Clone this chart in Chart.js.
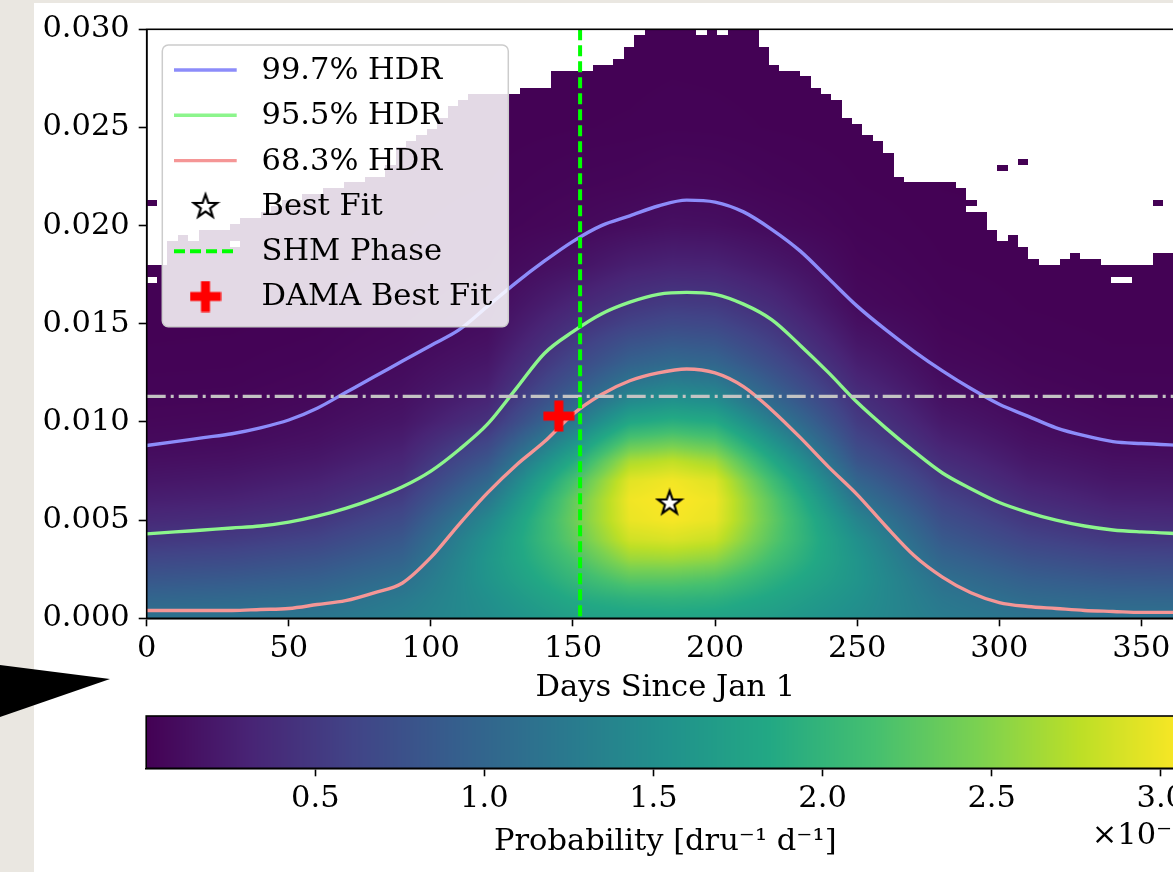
<!DOCTYPE html>
<html>
<head>
<meta charset="utf-8">
<script src="https://cdn.jsdelivr.net/npm/chart.js@4.4.1/dist/chart.umd.min.js"></script>
<style>
html, body { margin: 0; padding: 0; overflow: hidden; width: 1173px; height: 872px; background: #eae7e1; }
#sheet { position: absolute; left: 34px; top: 3px; width: 1200px; height: 900px; background: #fff; }
#main { position: absolute; left: 0; top: 0; }
#cbar { position: absolute; left: 0; top: 700px; }
#arrow { position: absolute; left: 0; top: 0; }
</style>
</head>
<body>
<div id="sheet"></div>
<svg id="arrow" width="120" height="872"><polygon points="0,665 110,679 0,717" fill="#000"/></svg>
<canvas id="main" width="1200" height="710"></canvas>
<canvas id="cbar" width="1200" height="172"></canvas>
<script>
// --- data ---
const contourDays = [0,10,20,30,40,50,60,70,80,90,100,110,120,130,140,150,160,170,180,190,200,210,220,230,240,250,260,270,280,290,300,310,320,330,340,350,365];
const hdr997 = [0.0088,0.0090,0.0092,0.0094,0.0097,0.0101,0.0107,0.0115,0.0123,0.0131,0.0139,0.0147,0.0159,0.0171,0.0182,0.0192,0.0200,0.0205,0.0210,0.0213,0.0212,0.0207,0.0198,0.0187,0.0173,0.0159,0.0147,0.0136,0.0126,0.0117,0.0109,0.0103,0.0097,0.0093,0.0090,0.0089,0.0088];
const hdr955 = [0.0043,0.0044,0.0045,0.0046,0.0047,0.0049,0.0052,0.0056,0.0061,0.0067,0.0075,0.0086,0.0099,0.0117,0.0135,0.0146,0.0155,0.0161,0.0165,0.0166,0.0165,0.0160,0.0152,0.0139,0.0125,0.0110,0.0097,0.0085,0.0074,0.0066,0.0059,0.0054,0.0050,0.0047,0.0045,0.0044,0.0043];
const hdr683 = [0.0004,0.0004,0.0004,0.0004,0.00045,0.0005,0.0007,0.0009,0.0013,0.0018,0.0031,0.0048,0.0064,0.0078,0.0090,0.0104,0.0114,0.0121,0.0125,0.0127,0.0125,0.0118,0.0106,0.0092,0.0077,0.0063,0.0047,0.0032,0.0021,0.0013,0.0008,0.0006,0.0005,0.0004,0.00035,0.0003,0.0003];
const bestFit = { x: 184, y: 0.0059 };
const damaFit = { x: 145, y: 0.0103 };
const shmPhase = 152.5;
const refLevel = 0.0113;
const cbarTicks = [0.5, 1.0, 1.5, 2.0, 2.5, 3.0];
const probMax = 3.07;

// probability density (units of 1e-1), one row per day column, values at heatAmps
const heatDays = [0,30,60,90,120,150,170,185,200,220,250,280,310,340,365];
const heatAmps = [0,0.001,0.002,0.003,0.004,0.005,0.006,0.007,0.008,0.009,0.010,0.011,0.012,0.013,0.014,0.015,0.016,0.018,0.020,0.022,0.025,0.030];
const heatGrid = [
  [1.15,1.00,0.82,0.65,0.49,0.36,0.26,0.18,0.12,0.075,0.05,0.035,0.025,0.018,0.013,0.010,0.008,0.005,0.003,0.002,0.001,0.001],
  [1.17,1.03,0.86,0.69,0.53,0.40,0.29,0.21,0.14,0.09,0.06,0.04,0.028,0.02,0.015,0.011,0.009,0.006,0.004,0.002,0.001,0.001],
  [1.20,1.08,0.93,0.78,0.62,0.48,0.37,0.28,0.20,0.14,0.10,0.07,0.05,0.035,0.025,0.018,0.013,0.008,0.005,0.003,0.002,0.001],
  [1.32,1.24,1.11,0.97,0.84,0.70,0.56,0.43,0.33,0.25,0.18,0.14,0.11,0.083,0.06,0.045,0.033,0.018,0.010,0.006,0.003,0.001],
  [1.48,1.52,1.58,1.60,1.55,1.42,1.22,1.02,0.82,0.63,0.44,0.33,0.25,0.19,0.14,0.105,0.078,0.045,0.025,0.014,0.006,0.002],
  [1.72,1.86,2.02,2.16,2.30,2.36,2.32,2.15,1.86,1.54,1.22,0.98,0.80,0.65,0.53,0.42,0.32,0.15,0.06,0.035,0.012,0.004],
  [1.76,1.96,2.28,2.60,2.85,2.98,3.01,2.94,2.68,2.25,1.82,1.46,1.18,0.95,0.78,0.60,0.47,0.26,0.10,0.045,0.015,0.005],
  [1.78,1.98,2.28,2.62,2.90,3.04,3.07,3.02,2.78,2.35,1.92,1.57,1.30,1.05,0.86,0.68,0.53,0.30,0.13,0.06,0.02,0.006],
  [1.76,1.95,2.22,2.55,2.82,2.97,3.00,2.92,2.64,2.24,1.85,1.51,1.24,1.00,0.82,0.65,0.51,0.29,0.12,0.055,0.018,0.005],
  [1.68,1.80,1.95,2.12,2.26,2.32,2.28,2.12,1.86,1.57,1.29,1.05,0.87,0.71,0.58,0.47,0.37,0.20,0.075,0.035,0.012,0.004],
  [1.48,1.53,1.58,1.58,1.52,1.38,1.18,0.99,0.80,0.65,0.53,0.44,0.34,0.26,0.19,0.13,0.078,0.045,0.025,0.014,0.006,0.002],
  [1.27,1.21,1.12,0.99,0.86,0.74,0.62,0.50,0.39,0.29,0.21,0.15,0.105,0.07,0.05,0.036,0.026,0.014,0.008,0.004,0.002,0.001],
  [1.17,1.06,0.92,0.77,0.62,0.49,0.38,0.28,0.20,0.14,0.095,0.065,0.045,0.032,0.022,0.016,0.012,0.007,0.004,0.002,0.001,0.001],
  [1.15,1.01,0.84,0.67,0.51,0.38,0.27,0.19,0.13,0.08,0.053,0.036,0.026,0.018,0.013,0.010,0.008,0.005,0.003,0.002,0.001,0.001],
  [1.15,1.00,0.82,0.65,0.49,0.36,0.26,0.18,0.12,0.075,0.05,0.035,0.025,0.018,0.013,0.010,0.008,0.005,0.003,0.002,0.001,0.001]
];

// upper edge of the sampled region (cells above it are empty / white)
const maskDays = [0,5,10,20,30,50,64,80,85,90,100,110,120,140,143,148,152,160,163,167,170,172,175,213,215,220,225,230,235,240,245,250,255,260,265,285,295,300,305,312,318,325,330,337,345,352,357,365];
const maskTop = [0.0179,0.0180,0.0193,0.0197,0.0200,0.0213,0.0218,0.0225,0.0228,0.0241,0.0249,0.0264,0.0268,0.0269,0.0277,0.0280,0.0278,0.0281,0.0284,0.0286,0.0290,0.0294,0.0301,0.0301,0.0294,0.0284,0.0280,0.0279,0.0272,0.0266,0.0261,0.0251,0.0246,0.0241,0.0224,0.0222,0.0205,0.0193,0.0194,0.0182,0.0177,0.0185,0.0184,0.0181,0.0179,0.0181,0.0186,0.0184];
const emptyCells = [[2,0.0171],[17,0.0192],[30,0.0190],[197,0.0297],[202,0.0298],[247,0.0255],[263,0.0236],[270,0.0232],[267,0.0224],[289,0.0207],[340,0.0172],[344,0.0172]];
const filledCells = [[1,0.0210],[300,0.0229],[307,0.0233],[356,0.0210]];

const FONT = 'DejaVu Serif';
const FS = 30.5;
Chart.defaults.font.family = FONT;
Chart.defaults.font.size = FS;
Chart.defaults.color = '#000';

const VIR = [[68,1,84],[72,36,117],[65,68,135],[53,95,141],[42,120,142],[33,145,140],[34,168,132],[68,191,112],[122,209,81],[189,223,38],[253,231,37]];
function viridis(t) {
  t = Math.min(1, Math.max(0, t)) * (VIR.length - 1);
  const i = Math.min(VIR.length - 2, Math.floor(t)), f = t - i;
  const a = VIR[i], b = VIR[i + 1];
  return [a[0] + (b[0] - a[0]) * f, a[1] + (b[1] - a[1]) * f, a[2] + (b[2] - a[2]) * f];
}
function bracket(arr, v) {
  if (v <= arr[0]) return [0, 0];
  for (let i = 0; i < arr.length - 1; i++) {
    if (v <= arr[i + 1]) return [i, (v - arr[i]) / (arr[i + 1] - arr[i])];
  }
  return [arr.length - 2, 1];
}

// empty-cell mask on the 100x100 histogram grid
const NB = 100, binW = 365 / NB, binH = 0.03 / NB;
const empty = [];
for (let bx = 0; bx < NB; bx++) {
  const [k, f] = bracket(maskDays, (bx + 0.5) * binW);
  const top = maskTop[k] + (maskTop[k + 1] - maskTop[k]) * f;
  const col = [];
  for (let by = 0; by < NB; by++) col.push((by + 0.5) * binH > top);
  empty.push(col);
}
const cellOf = (d, a) => [Math.min(NB - 1, Math.floor(d / binW)), Math.min(NB - 1, Math.floor(a / binH))];
emptyCells.forEach(([d, a]) => { const [i, j] = cellOf(d, a); empty[i][j] = true; });
filledCells.forEach(([d, a]) => { const [i, j] = cellOf(d, a); empty[i][j] = false; });

function makeStar() {
  const c = document.createElement('canvas');
  c.width = c.height = 30;
  const g = c.getContext('2d');
  g.beginPath();
  for (let i = 0; i < 10; i++) {
    const r = i % 2 ? 4.9 : 12.3;
    const ang = -Math.PI / 2 + i * Math.PI / 5;
    g.lineTo(15 + r * Math.cos(ang), 15.8 + r * Math.sin(ang));
  }
  g.closePath();
  g.fillStyle = '#fff';
  g.fill();
  g.lineWidth = 2.2;
  g.strokeStyle = '#000';
  g.stroke();
  return c;
}
function makePlus() {
  const c = document.createElement('canvas');
  c.width = c.height = 32;
  const g = c.getContext('2d');
  g.fillStyle = '#ff0000';
  g.fillRect(11.5, 0.5, 9, 31);
  g.fillRect(0.5, 11.5, 31, 9);
  return c;
}
const starImg = makeStar();
const plusImg = makePlus();

const heatPlugin = {
  id: 'heat',
  beforeDatasetsDraw(chart) {
    const { ctx, chartArea: a, scales: { x, y } } = chart;
    const x0 = Math.floor(a.left), y0 = Math.floor(a.top);
    const w = Math.ceil(a.right) - x0, h = Math.ceil(a.bottom) - y0;
    const off = document.createElement('canvas');
    off.width = w; off.height = h;
    const g = off.getContext('2d');
    const img = g.createImageData(w, h);
    const cols = [], rows = [];
    for (let i = 0; i < w; i++) {
      const d = x.getValueForPixel(x0 + i + 0.5);
      cols.push([d, bracket(heatDays, d)]);
    }
    for (let j = 0; j < h; j++) {
      const v = y.getValueForPixel(y0 + j + 0.5);
      rows.push([v, bracket(heatAmps, v)]);
    }
    for (let j = 0; j < h; j++) {
      const [amp, [rj, fy]] = rows[j];
      if (amp < 0 || amp > 0.03) continue;
      for (let i = 0; i < w; i++) {
        const [d, [ci, fx]] = cols[i];
        if (d < 0 || d > 365) continue;
        const [bx, by] = cellOf(d, amp);
        if (empty[bx][by]) continue;
        const c0 = heatGrid[ci], c1 = heatGrid[ci + 1];
        const v0 = c0[rj] + (c0[rj + 1] - c0[rj]) * fy;
        const v1 = c1[rj] + (c1[rj + 1] - c1[rj]) * fy;
        const rgb = viridis((v0 + (v1 - v0) * fx) / probMax);
        const p = (j * w + i) * 4;
        img.data[p] = rgb[0]; img.data[p + 1] = rgb[1]; img.data[p + 2] = rgb[2]; img.data[p + 3] = 255;
      }
    }
    g.putImageData(img, 0, 0);
    ctx.drawImage(off, x0, y0);
  }
};

const framePlugin = {
  id: 'frame',
  afterDatasetsDraw(chart) {
    const { ctx, chartArea: a } = chart;
    ctx.save();
    ctx.strokeStyle = '#000';
    ctx.lineWidth = 1.6;
    ctx.strokeRect(a.left, a.top, a.right - a.left, a.bottom - a.top);
    ctx.restore();
  }
};

const legendPlugin = {
  id: 'hdrLegend',
  afterDatasetsDraw(chart) {
    const { ctx, chartArea: a } = chart;
    const bx = a.left + 15.6, by = a.top + 15.7, bw = 346, bh = 281.7;
    ctx.save();
    ctx.beginPath();
    ctx.roundRect(bx, by, bw, bh, 6);
    ctx.fillStyle = 'rgba(255,255,255,0.85)';
    ctx.fill();
    ctx.lineWidth = 1.5;
    ctx.strokeStyle = '#cccccc';
    ctx.stroke();
    const items = chart.data.datasets.filter(ds => ds.label);
    items.forEach((ds, i) => {
      const cy = by + 25 + i * 45.3;
      if (ds.showLine === false) {
        const im = ds.pointStyle;
        ctx.drawImage(im, bx + 43.2 - im.width / 2, cy - im.height / 2);
      } else {
        ctx.setLineDash(ds.borderDash || []);
        ctx.strokeStyle = ds.borderColor;
        ctx.lineWidth = ds.borderWidth;
        ctx.beginPath();
        ctx.moveTo(bx + 11.7, cy);
        ctx.lineTo(bx + 74.4, cy);
        ctx.stroke();
        ctx.setLineDash([]);
      }
      ctx.fillStyle = '#000';
      ctx.font = FS + 'px "' + FONT + '"';
      ctx.textBaseline = 'middle';
      ctx.textAlign = 'left';
      ctx.fillText(ds.label, bx + 99.2, cy + 1);
    });
    ctx.restore();
  }
};

const lineSet = (label, ys, color, order) => ({
  label: label,
  data: contourDays.map((d, i) => ({ x: d, y: ys[i] })),
  borderColor: color,
  borderWidth: 3.4,
  pointRadius: 0,
  cubicInterpolationMode: 'monotone',
  fill: false,
  order: order
});

new Chart(document.getElementById('main'), {
  type: 'line',
  data: {
    datasets: [
      lineSet('99.7% HDR', hdr997, 'rgb(140,140,250)', 6),
      lineSet('95.5% HDR', hdr955, 'rgb(140,245,140)', 5),
      lineSet('68.3% HDR', hdr683, 'rgb(245,150,150)', 4),
      { label: 'Best Fit', data: [bestFit], showLine: false, pointStyle: starImg, pointRadius: 12, order: 0 },
      { label: 'SHM Phase', data: [{ x: shmPhase, y: 0.030 }, { x: shmPhase, y: 0 }], borderColor: '#00ff00', borderWidth: 4, borderDash: [11, 5], pointRadius: 0, order: 2 },
      { label: 'DAMA Best Fit', data: [damaFit], showLine: false, pointStyle: plusImg, pointRadius: 15, order: 1 },
      { label: '', data: [{ x: 0, y: refLevel }, { x: 365, y: refLevel }], borderColor: 'rgb(195,195,195)', borderWidth: 3.2, borderDash: [19, 5, 3, 5], pointRadius: 0, order: 3 }
    ]
  },
  options: {
    responsive: false,
    animation: false,
    layout: { padding: { top: 29.3, right: 15.6, bottom: 0, left: 0 } },
    plugins: { legend: { display: false }, tooltip: { enabled: false } },
    scales: {
      x: {
        type: 'linear', min: 0, max: 365,
        afterFit(s) { s.height = 91.7; },
        ticks: { stepSize: 50, includeBounds: false, padding: 4, color: '#000' },
        grid: { drawOnChartArea: false, drawTicks: true, tickLength: 8, tickWidth: 1.6, tickColor: '#000' },
        border: { display: true, color: '#000', width: 1.6 },
        title: { display: true, text: 'Days Since Jan 1', color: '#000', padding: { top: 0, bottom: 3.3 } }
      },
      y: {
        type: 'linear', min: 0, max: 0.03,
        afterFit(s) { s.width = 146.7; },
        ticks: { stepSize: 0.005, padding: 9, color: '#000', callback: v => v.toFixed(3) },
        grid: { drawOnChartArea: false, drawTicks: true, tickLength: 8, tickWidth: 1.6, tickColor: '#000' },
        border: { display: true, color: '#000', width: 1.6 }
      }
    }
  },
  plugins: [heatPlugin, framePlugin, legendPlugin]
});

const cbarPlugin = {
  id: 'cbarFill',
  beforeDatasetsDraw(chart) {
    const { ctx, chartArea: a, scales: { x } } = chart;
    for (let px = Math.floor(a.left); px < Math.ceil(a.right); px++) {
      const rgb = viridis(x.getValueForPixel(px + 0.5) / probMax);
      ctx.fillStyle = 'rgb(' + rgb.map(Math.round).join(',') + ')';
      ctx.fillRect(px, a.top, 1, a.bottom - a.top);
    }
  },
  afterDatasetsDraw(chart) {
    const { ctx, chartArea: a } = chart;
    ctx.save();
    ctx.strokeStyle = '#000';
    ctx.lineWidth = 1.6;
    ctx.strokeRect(a.left, a.top, a.right - a.left, a.bottom - a.top);
    ctx.fillStyle = '#000';
    ctx.font = FS + 'px "' + FONT + '"';
    ctx.textAlign = 'right';
    ctx.textBaseline = 'middle';
    ctx.fillText('×10⁻¹', a.right, 136);
    ctx.restore();
  }
};

new Chart(document.getElementById('cbar'), {
  type: 'scatter',
  data: { datasets: [] },
  options: {
    responsive: false,
    animation: false,
    layout: { padding: { top: 16, right: 15.6, bottom: 0, left: 146.2 } },
    plugins: { legend: { display: false }, tooltip: { enabled: false } },
    scales: {
      x: {
        type: 'linear', min: 0, max: probMax,
        afterFit(s) { s.height = 103.7; },
        afterBuildTicks(s) { s.ticks = cbarTicks.map(v => ({ value: v })); },
        ticks: { padding: 4, color: '#000', callback: v => v.toFixed(1) },
        grid: { drawOnChartArea: false, drawTicks: true, tickLength: 8, tickWidth: 1.6, tickColor: '#000' },
        border: { display: true, color: '#000', width: 1.6 },
        title: { display: true, text: 'Probability [dru⁻¹ d⁻¹]', color: '#000', padding: { top: 0, bottom: 11.9 } }
      },
      y: { display: false, min: 0, max: 1 }
    }
  },
  plugins: [cbarPlugin]
});
</script>
</body>
</html>
